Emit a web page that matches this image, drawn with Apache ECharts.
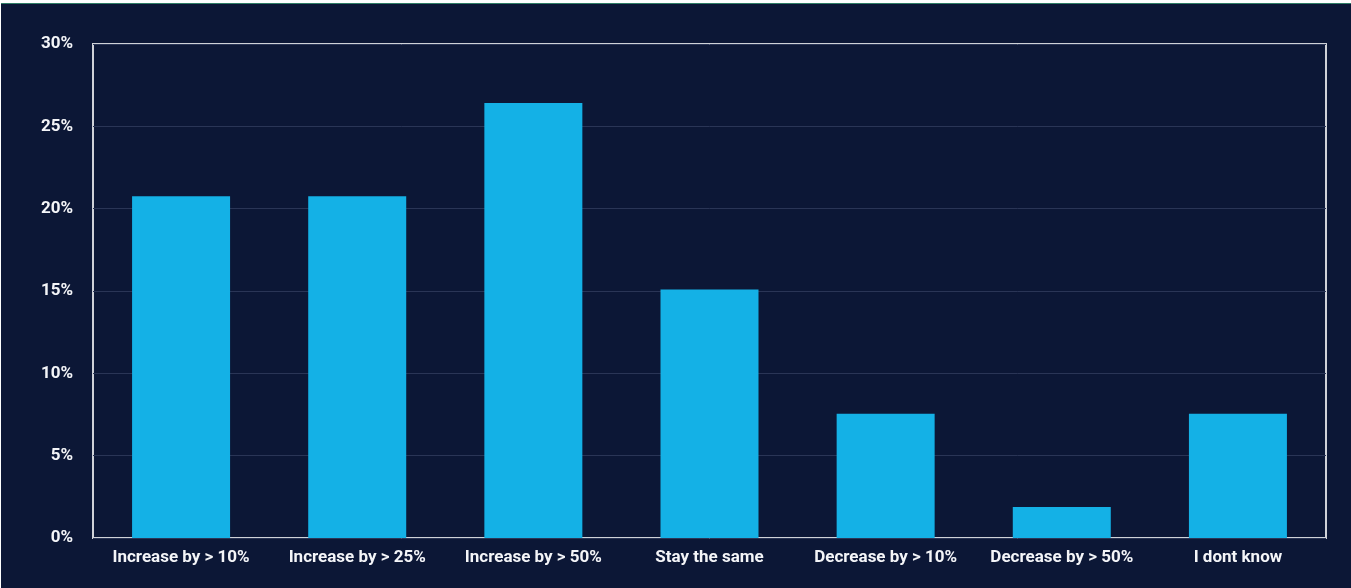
<!DOCTYPE html>
<html>
<head>
<meta charset="utf-8">
<script src="https://cdn.jsdelivr.net/npm/echarts@6/dist/echarts.min.js"></script>
<style>
  html, body { margin: 0; padding: 0; background: #ffffff; }
  #wrap { position: absolute; left: 1px; top: 3px; width: 1350px; height: 585px; background: #0c1736; border-top: 1px solid #2f7d66; box-sizing: border-box; }
  #chart { position: absolute; left: 0; top: 0; width: 1350px; height: 584px; }
</style>
</head>
<body>
<div id="wrap"><div id="chart"></div></div>
<script>
// Survey answers: expected change, share of respondents (%)
const categories = ['Increase by > 10%', 'Increase by > 25%', 'Increase by > 50%', 'Stay the same', 'Decrease by > 10%', 'Decrease by > 50%', 'I dont know'];
const shares = [20.75, 20.75, 26.42, 15.09, 7.55, 1.89, 7.55];
const yTicks = [0, 5, 10, 15, 20, 25, 30];

const chart = echarts.init(document.getElementById('chart'));
chart.setOption({
  backgroundColor: '#0c1736',
  animation: false,
  grid: { left: 92, right: 25, top: 40, bottom: 50, show: true, borderColor: '#cfd2d8', borderWidth: 2, backgroundColor: 'transparent' },
  xAxis: {
    type: 'category',
    data: categories,
    axisLine: { show: false },
    axisTick: { show: false },
    axisLabel: { interval: 0, hideOverlap: false, color: '#f4f5f8', fontFamily: 'Roboto', fontWeight: 'bold', fontSize: 17, margin: 11 }
  },
  yAxis: {
    type: 'value',
    min: yTicks[0],
    max: yTicks[yTicks.length - 1],
    interval: 5,
    axisLine: { show: false },
    axisTick: { show: false },
    splitLine: { lineStyle: { color: '#2a3556', width: 1 } },
    axisLabel: { color: '#f4f5f8', fontFamily: 'Roboto', fontWeight: 'bold', fontSize: 17, margin: 20, formatter: '{value}%' }
  },
  series: [{
    type: 'bar',
    data: shares,
    barWidth: 98,
    itemStyle: { color: '#14b1e6' }
  }]
});
</script>
</body>
</html>
